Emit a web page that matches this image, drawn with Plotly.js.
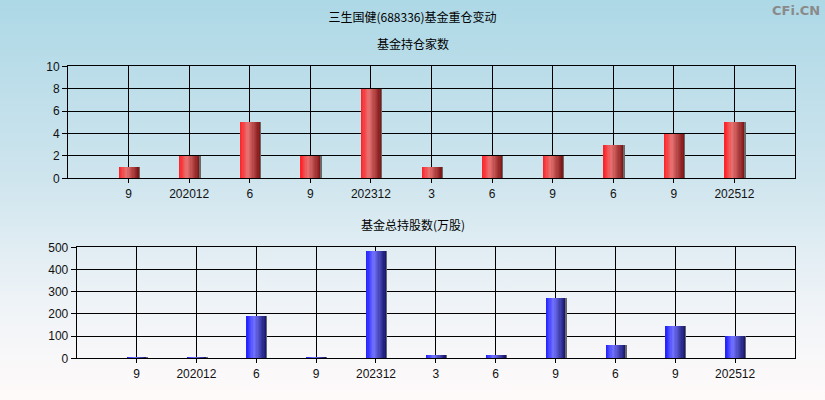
<!DOCTYPE html>
<html>
<head>
<meta charset="utf-8">
<script src="https://cdn.plot.ly/plotly-3.0.1.min.js"></script>
<style>
html,body{margin:0;padding:0;}
#chart{width:825px;height:400px;background:linear-gradient(to bottom,#add8e6 0%,#cfe5ee 45%,#eef3f7 75%,#fffafa 100%);}
</style>
</head>
<body>
<div id="chart"></div>
<script>
// ---- data ----
const categories = ['9','202012','6','9','202312','3','6','9','6','9','202512'];
const fundCount = [1,2,5,2,8,1,2,2,3,4,5];
const fundShares = [4,4,190,4,483,15,15,272,60,146,100];
const mainTitle = '三生国健(688336)基金重仓变动';
const topTitle = '基金持仓家数';
const bottomTitle = '基金总持股数(万股)';

const xIdx = categories.map((_, i) => i);

function lerp(a, b, t) { return a.map((v, i) => Math.round(v + (b[i] - v) * t)); }
function gradColor(stops, t) {
  for (let i = 0; i < stops.length - 1; i++) {
    const [t0, c0] = stops[i], [t1, c1] = stops[i + 1];
    if (t <= t1) return lerp(c0, c1, (t - t0) / (t1 - t0));
  }
  return stops[stops.length - 1][1];
}
const redStops = [[0, [255, 30, 35]], [0.38, [232, 115, 115]], [1, [125, 20, 20]]];
const blueStops = [[0, [30, 30, 255]], [0.38, [115, 115, 255]], [1, [20, 20, 105]]];

const W = 0.33, N = 16;
function gradientBars(values, stops, xa, ya) {
  const traces = [];
  for (let k = 0; k < N; k++) {
    const c = gradColor(stops, (k + 0.5) / N);
    traces.push({
      type: 'bar', x: xIdx, y: values, xaxis: xa, yaxis: ya,
      width: W / N + 0.002, offset: -W / 2 + k * W / N,
      marker: { color: `rgb(${c.join(',')})`, line: { width: 0 } },
      hoverinfo: 'skip', showlegend: false
    });
  }
  traces.push({
    type: 'bar', x: xIdx, y: values, xaxis: xa, yaxis: ya,
    width: 0.022, offset: W / 2,
    marker: { color: 'rgb(105,105,105)', line: { width: 0 } },
    hoverinfo: 'skip', showlegend: false
  });
  return traces;
}

const data = [
  ...gradientBars(fundCount, redStops, 'x', 'y'),
  ...gradientBars(fundShares, blueStops, 'x2', 'y2')
];

const tickFont = { family: 'Liberation Sans, Arial, sans-serif', size: 12, color: '#111' };
const xCommon = {
  range: [-1, 11], tickmode: 'array', tickvals: xIdx, ticktext: categories,
  showgrid: true, gridcolor: '#000', gridwidth: 1,
  showline: true, linecolor: '#000', linewidth: 1, mirror: true,
  ticks: 'outside', ticklen: 4, tickcolor: '#000',
  zeroline: false, tickfont: tickFont, fixedrange: true
};
const yCommon = {
  showgrid: true, gridcolor: '#000', gridwidth: 1,
  showline: true, linecolor: '#000', linewidth: 1, mirror: true,
  ticks: 'outside', ticklen: 5, tickcolor: '#000',
  zeroline: false, tickfont: tickFont, fixedrange: true
};

const cjk = 'Noto Sans CJK SC, sans-serif';
const layout = {
  width: 825, height: 400,
  margin: { l: 0, r: 0, t: 0, b: 0 },
  paper_bgcolor: 'rgba(0,0,0,0)', plot_bgcolor: 'rgba(0,0,0,0)',
  barmode: 'overlay', bargap: 0,
  showlegend: false,
  title: { text: mainTitle, x: 0.5, xanchor: 'center', y: 0.955, yanchor: 'middle', font: { family: cjk, size: 12, color: '#000' } },
  xaxis: Object.assign({}, xCommon, { domain: [68 / 825, 795 / 825], anchor: 'y' }),
  yaxis: Object.assign({}, yCommon, { domain: [(400 - 178.3) / 400, (400 - 66.3) / 400], range: [0, 10], dtick: 2, anchor: 'x' }),
  xaxis2: Object.assign({}, xCommon, { domain: [76.7 / 825, 795 / 825], anchor: 'y2' }),
  yaxis2: Object.assign({}, yCommon, { domain: [(400 - 358.3) / 400, (400 - 247.3) / 400], range: [0, 500], dtick: 100, anchor: 'x2' }),
  annotations: [
    { text: topTitle, xref: 'paper', yref: 'paper', x: 0.5, y: 1 - 43.3 / 400, xanchor: 'center', yanchor: 'middle', showarrow: false, font: { family: cjk, size: 12, color: '#000' } },
    { text: bottomTitle, xref: 'paper', yref: 'paper', x: 0.5, y: 1 - 224.5 / 400, xanchor: 'center', yanchor: 'middle', showarrow: false, font: { family: cjk, size: 12, color: '#000' } },
    { text: '<b>CFi.CN</b>', xref: 'paper', yref: 'paper', x: 822 / 825, y: 1 - 10 / 400, xanchor: 'right', yanchor: 'middle', showarrow: false, font: { family: 'DejaVu Sans, sans-serif', size: 13, color: '#8a8a8a' } }
  ]
};

Plotly.newPlot('chart', data, layout, { displayModeBar: false, staticPlot: true });
</script>
</body>
</html>
